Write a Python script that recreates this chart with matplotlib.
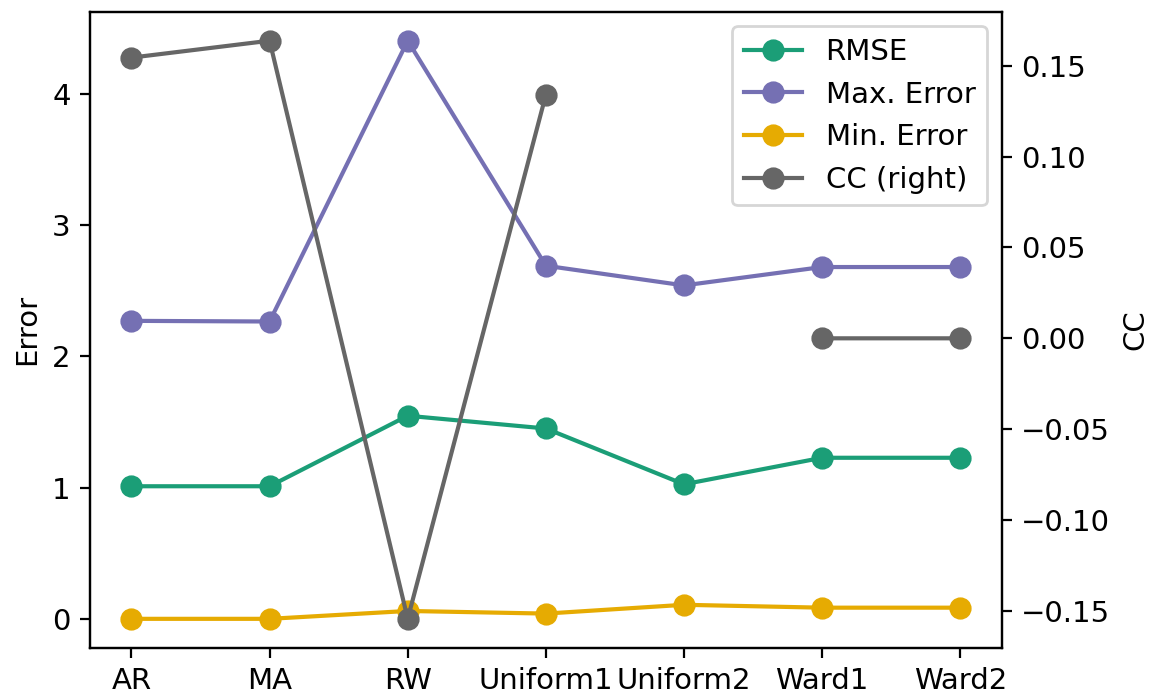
import numpy as np
import matplotlib
matplotlib.use("Agg")
import matplotlib.pyplot as plt

# Methods on the x axis
methods = ["AR", "MA", "RW", "Uniform1", "Uniform2", "Ward1", "Ward2"]

# Error values
rmse = [1.01, 1.01, 1.547, 1.45, 1.025, 1.227, 1.227]
max_error = [2.27, 2.265, 4.404, 2.69, 2.54, 2.68, 2.68]
min_error = [0.0, 0.0, 0.06, 0.04, 0.107, 0.085, 0.085]

# Correlation coefficient (right axis), Uniform2 missing
cc = [0.1545, 0.1638, -0.1544, 0.134, np.nan, 0.0, 0.0]

colors = ["#1b9e77", "#7570b3", "#e6ab02", "#666666"]

plt.rcParams["font.size"] = 10.5
plt.rcParams["lines.markersize"] = 7

fig, ax = plt.subplots(figsize=(5.77, 3.475), dpi=200)
x = np.arange(len(methods))

l1, = ax.plot(x, rmse, marker="o", color=colors[0], label="RMSE")
l2, = ax.plot(x, max_error, marker="o", color=colors[1], label="Max. Error")
l3, = ax.plot(x, min_error, marker="o", color=colors[2], label="Min. Error")
ax.set_ylabel("Error")
ax.set_xticks(x)
ax.set_xticklabels(methods)

ax2 = ax.twinx()
l4, = ax2.plot(x, cc, marker="o", color=colors[3], label="CC (right)")
ax2.set_ylabel("CC")

ax.legend(handles=[l1, l2, l3, l4], loc="upper right")

plt.subplots_adjust(left=0.078, right=0.868, top=0.983, bottom=0.068)
plt.savefig("out.png")
